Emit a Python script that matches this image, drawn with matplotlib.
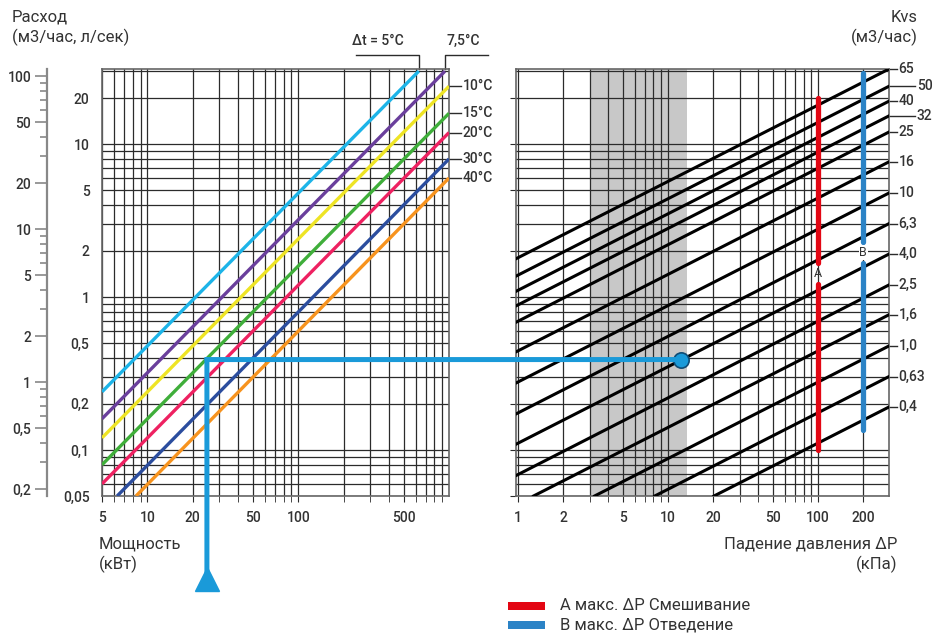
import matplotlib
matplotlib.use("Agg")
import matplotlib.pyplot as plt
import matplotlib.transforms as mtransforms
from matplotlib.ticker import NullFormatter
from matplotlib.patches import ConnectionPatch, Rectangle

plt.rcParams['font.family'] = ['Roboto', 'DejaVu Sans']

# Левый график: расход (л/сек) от мощности (кВт) для разных Δt
dt_labels = ['5°C', '7,5°C', '10°C', '15°C', '20°C', '30°C', '40°C']
dt_colors = ['#1db4e8', '#6a3f9c', '#eee425', '#3fae3a', '#ee2161', '#2b4d9e', '#f7931e']
power_start = [5, 5, 5, 5, 5, 6.3, 8.4]
flow_start = [0.24, 0.16, 0.12, 0.08, 0.06, 0.05, 0.05]
power_end = [630, 940, 1000, 1000, 1000, 1000, 1000]
flow_end = [30, 30, 23.9, 15.9, 11.9, 8.0, 6.0]

# Правый график: линии Kvs (м3/час), расход (л/сек) от падения давления (кПа)
kvs_labels = ['65', '50', '40', '32', '25', '16', '10', '6,3', '4,0', '2,5', '1,6', '1,0', '0,63', '0,4']
dp_start = [0.97, 0.97, 0.97, 0.97, 0.97, 0.97, 0.97, 0.97, 0.97, 0.97, 1.27, 3.24, 8.16, 20.25]
kvs_flow_start = [1.78, 1.37, 1.09, 0.875, 0.684, 0.438, 0.274, 0.172, 0.109, 0.068, 0.05, 0.05, 0.05, 0.05]
dp_end = [297] * 14
kvs_flow_end = [31.0, 23.9, 19.1, 15.3, 12.0, 7.66, 4.79, 3.02, 1.91, 1.20, 0.766, 0.479, 0.302, 0.191]

# Ограничения А и В (кПа, отрезки по расходу)
a_dp = 100
a_segments = [(0.1, 1.22), (1.66, 20)]
a_label_flow = 1.42
b_dp = 200
b_segments = [(0.135, 1.66), (2.3, 29)]
b_label_flow = 1.95

# Пример подбора
example_power = 24.8
example_flow = 0.39
example_dp = 12.2

# Серая зона
gray_zone = (3, 13.3)

left_ticks = [5, 10, 20, 50, 100, 500]
right_ticks = [1, 2, 5, 10, 20, 50, 100, 200]
ls_ticks = [0.05, 0.1, 0.2, 0.5, 1, 2, 5, 10, 20]
ls_labels = ['0,05', '0,1', '0,2', '0,5', '1', '2', '5', '10', '20']
m3h_ticks = [0.2, 0.5, 1, 2, 5, 10, 20, 50, 100]
m3h_labels = ['0,2', '0,5', '1', '2', '5', '10', '20', '50', '100']

grid_color = '#2b2b2b'
frame_color = '#666666'
text_color = '#333333'
num_font = dict(fontsize=10, fontweight='medium', color=text_color)

fig = plt.figure(figsize=(9.37, 6.34), dpi=100)
ax1 = fig.add_axes([0.1089, 0.2177, 0.3703, 0.6735])
ax2 = fig.add_axes([0.5507, 0.2177, 0.3981, 0.6735])

for ax in (ax1, ax2):
    ax.set_xscale('log')
    ax.set_yscale('log')
    ax.set_ylim(0.05, 31)
    ax.set_axisbelow(True)
    ax.grid(which='both', color=grid_color, lw=0.9)
    ax.set_yticks(ls_ticks)
    ax.yaxis.set_minor_formatter(NullFormatter())
    ax.xaxis.set_minor_formatter(NullFormatter())
    for s in ax.spines.values():
        s.set_color(frame_color)
        s.set_linewidth(1.2)
    ax.tick_params(axis='x', which='both', length=4, color=grid_color, pad=7)

ax1.set_xlim(5, 1000)
ax1.set_xticks(left_ticks, [str(t) for t in left_ticks], **num_font)
ax1.xaxis.set_minor_formatter(NullFormatter())
ax1.set_yticklabels(ls_labels, **num_font)
ax1.tick_params(axis='y', which='both', length=0, pad=9)

ax2.set_xlim(0.97, 297)
ax2.set_xticks(right_ticks, [str(t) for t in right_ticks], **num_font)
ax2.xaxis.set_minor_formatter(NullFormatter())
ax2.set_yticklabels([])
ax2.tick_params(axis='y', which='major', length=4, color=grid_color)
ax2.tick_params(axis='y', which='minor', length=0)

# линии Δt
for i in range(len(dt_labels)):
    ax1.plot([power_start[i], power_end[i]], [flow_start[i], flow_end[i]],
             color=dt_colors[i], lw=2.4, solid_capstyle='butt', zorder=3)

# подписи температур справа от левого графика
right_edge = mtransforms.blended_transform_factory(ax1.transAxes, ax1.transData)
for i in range(2, len(dt_labels)):
    ax1.plot([1.0, 1.035], [flow_end[i], flow_end[i]], color=grid_color, lw=1,
             transform=right_edge, clip_on=False)
    ax1.text(1.04, flow_end[i], dt_labels[i], transform=right_edge, va='center',
             ha='left', **num_font)

# скобки Δt = 5°C и 7,5°C
top_edge = mtransforms.blended_transform_factory(ax1.transData, ax1.transAxes)
ax1.plot([power_end[0], power_end[0], 240], [1.0, 1.033, 1.033], color=grid_color, lw=1,
         transform=top_edge, clip_on=False)
ax1.text(336, 1.05, 'Δt = 5°C', transform=top_edge, ha='center', va='bottom', **num_font)
ax1.plot([power_end[1], power_end[1], 1800], [1.0, 1.033, 1.033], color=grid_color, lw=1,
         transform=top_edge, clip_on=False)
ax1.text(1250, 1.05, '7,5°C', transform=top_edge, ha='center', va='bottom', **num_font)

# вторая шкала м3/час
sec = ax1.secondary_yaxis(-0.16, functions=(lambda q: q * 3.6, lambda m: m / 3.6))
sec.set_yticks(m3h_ticks, m3h_labels, **num_font)
sec.yaxis.set_minor_formatter(NullFormatter())
sec.tick_params(which='major', length=9, width=1.2, color='#888888', pad=2)
sec.tick_params(which='minor', length=5, width=1.2, color='#888888')
sec.spines['left'].set_color('#888888')
sec.spines['left'].set_linewidth(1.6)

# серая зона и линии Kvs
ax2.axvspan(gray_zone[0], gray_zone[1], color='#c8c8c8', zorder=0.3, lw=0)
for i in range(len(kvs_labels)):
    ax2.plot([dp_start[i], dp_end[i]], [kvs_flow_start[i], kvs_flow_end[i]],
             color='black', lw=2.2, zorder=3)

kvs_edge = mtransforms.blended_transform_factory(ax2.transAxes, ax2.transData)
for i in range(len(kvs_labels)):
    far = kvs_labels[i] in ('50', '32')
    x_end = 1.07 if far else 1.022
    ax2.plot([1.0, x_end], [kvs_flow_end[i], kvs_flow_end[i]], color=grid_color, lw=1,
             transform=kvs_edge, clip_on=False)
    ax2.text(x_end + 0.004, kvs_flow_end[i], kvs_labels[i], transform=kvs_edge,
             va='center', ha='left', **num_font)

# ограничения A и B
for lo, hi in a_segments:
    ax2.plot([a_dp, a_dp], [lo, hi], color='#e30613', lw=3.8, solid_capstyle='round', zorder=4)
ax2.text(a_dp, a_label_flow, 'A', ha='center', va='center', fontsize=9, color=text_color, zorder=5)
for lo, hi in b_segments:
    ax2.plot([b_dp, b_dp], [lo, hi], color='#2b83c6', lw=3.8, solid_capstyle='round', zorder=4)
ax2.text(b_dp, b_label_flow, 'B', ha='center', va='center', fontsize=9, color=text_color, zorder=5,
         bbox=dict(facecolor='white', edgecolor='none', pad=0.5))

# пример подбора
ex_color = '#1a9ad9'
con = ConnectionPatch(xyA=(example_power, example_flow), coordsA=ax1.transData,
                      xyB=(example_dp, example_flow), coordsB=ax2.transData,
                      color=ex_color, lw=3.6, zorder=6)
fig.add_artist(con)
bottom_tr = mtransforms.blended_transform_factory(ax1.transData, ax1.transAxes)
con2 = ConnectionPatch(xyA=(example_power, example_flow), coordsA=ax1.transData,
                       xyB=(example_power, -0.2), coordsB=bottom_tr,
                       color=ex_color, lw=3.6, zorder=6, capstyle='projecting')
fig.add_artist(con2)
ax1.plot([example_power], [-0.195], marker='^', markersize=17, color=ex_color,
         transform=bottom_tr, clip_on=False, zorder=6)
ax2.plot([example_dp], [example_flow], marker='o', markersize=11, markerfacecolor=ex_color,
         markeredgecolor='#0f4c75', markeredgewidth=1.2, zorder=7)

# подписи осей
label_font = dict(fontsize=12, color=text_color, va='center')
fig.text(12 / 937, 1 - 17 / 634, 'Расход', **label_font)
fig.text(12 / 937, 1 - 37 / 634, '(м3/час, л/сек)', **label_font)
fig.text(918 / 937, 1 - 17 / 634, 'Kvs', ha='right', **label_font)
fig.text(918 / 937, 1 - 37 / 634, '(м3/час)', ha='right', **label_font)
fig.text(99 / 937, 1 - 544 / 634, 'Мощность', **label_font)
fig.text(99 / 937, 1 - 564 / 634, '(кВт)', **label_font)
fig.text(897 / 937, 1 - 544 / 634, 'Падение давления ΔP', ha='right', **label_font)
fig.text(897 / 937, 1 - 564 / 634, '(кПа)', ha='right', **label_font)

# легенда
legend_items = [('#e30613', 'А макс. ΔP Смешивание'), ('#2b83c6', 'В макс. ΔP Отведение')]
for k, (c, label) in enumerate(legend_items):
    y = 1 - (606 + 19 * k) / 634
    fig.add_artist(Rectangle((508 / 937, y - 4 / 634), 37 / 937, 8 / 634,
                             transform=fig.transFigure, color=c, lw=0))
    fig.text(560 / 937, y, label, **label_font)

fig.savefig('out.png', dpi=100)
